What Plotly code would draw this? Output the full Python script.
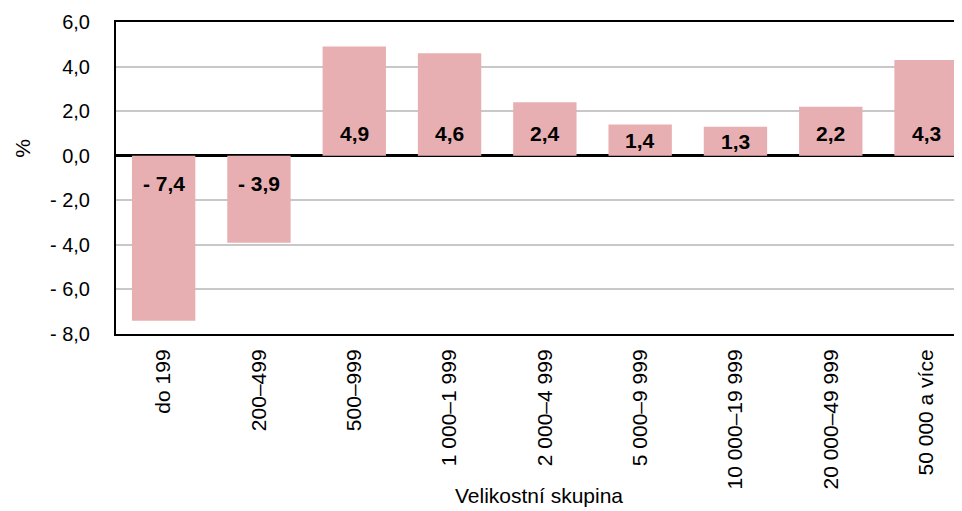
import plotly.graph_objects as go

categories = ["do 199", "200–499", "500–999", "1 000–1 999", "2 000–4 999",
              "5 000–9 999", "10 000–19 999", "20 000–49 999", "50 000 a více"]
values = [-7.4, -3.9, 4.9, 4.6, 2.4, 1.4, 1.3, 2.2, 4.3]
tick_vals = [6, 4, 2, 0, -2, -4, -6, -8]
tick_text = ["6,0", "4,0", "2,0", "0,0", "- 2,0", "- 4,0", "- 6,0", "- 8,0"]

FONT = "Liberation Sans, Arial, sans-serif"

def fmt(v):
    s = f"{abs(v):.1f}".replace(".", ",")
    return ("- " + s) if v < 0 else s

fig = go.Figure()
fig.add_trace(go.Bar(
    x=categories, y=values,
    marker=dict(color="#E8AFB3", line=dict(width=0)),
    width=0.665,
    hoverinfo="x+y",
))

# labels placed near the bar base (inside base), derived from the data values
for c, v in zip(categories, values):
    ly = min(v / 2, 1.0) if v >= 0 else max(v / 2, -1.23)
    fig.add_annotation(
        x=c, y=ly, text=f"<b>{fmt(v)}</b>", showarrow=False,
        font=dict(family=FONT, size=21, color="black"),
        xanchor="center", yanchor="middle",
    )

# y-axis title ("%"), placed like the original (above the plot's centre)
fig.add_annotation(
    xref="paper", yref="paper", x=-0.1265, y=0.595, text="%", showarrow=False,
    textangle=-90, font=dict(family=FONT, size=21, color="black"),
    xanchor="left", yanchor="middle",
)

fig.update_layout(
    width=954, height=503,
    margin=dict(l=108, r=0, t=14, b=177, autoexpand=False),
    plot_bgcolor="white", paper_bgcolor="white",
    font=dict(family=FONT, size=21, color="black"),
    showlegend=False,
    xaxis=dict(
        type="category",
        showline=True, linecolor="black", linewidth=2, mirror=True,
        ticks="", tickangle=-90, tickfont=dict(size=21),
        ticklabelstandoff=5,
        title=dict(text="Velikostní skupina", font=dict(size=21), standoff=0),
        range=[-0.5, 8.377],
        automargin=False,
    ),
    yaxis=dict(
        range=[-8, 6],
        tickvals=tick_vals, ticktext=tick_text,
        showline=True, linecolor="black", linewidth=2,
        showgrid=True, gridcolor="#C8C8C8", gridwidth=1.5,
        zeroline=True, zerolinecolor="black", zerolinewidth=3,
        ticks="", tickfont=dict(size=20),
        ticklabelstandoff=20,
        automargin=False,
    ),
)

fig.write_html("out.html")
